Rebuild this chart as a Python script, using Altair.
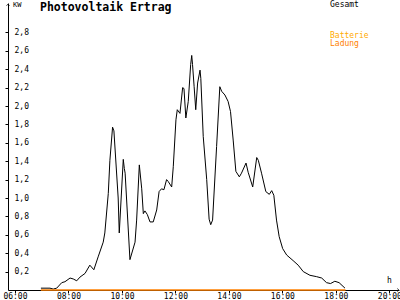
import altair as alt
import pandas as pd

# Time of day (decimal hours) and output power (kW)
hours = [6.97, 7.31, 7.43, 7.56, 7.75, 7.87, 8.06, 8.18, 8.31, 8.43, 8.62, 8.80,
         8.95, 9.11, 9.30, 9.36, 9.49, 9.55, 9.65, 9.70, 9.86, 9.90, 10.05, 10.09,
         10.12, 10.30, 10.49, 10.55, 10.65, 10.74, 10.80, 10.86, 10.95, 11.05,
         11.17, 11.30, 11.39, 11.48, 11.57, 11.67, 11.73, 11.86, 11.92, 12.02,
         12.07, 12.17, 12.27, 12.32, 12.39, 12.48, 12.57, 12.61, 12.64, 12.70,
         12.76, 12.83, 12.92, 12.95, 13.04, 13.17, 13.26, 13.32, 13.39, 13.54,
         13.66, 13.73, 13.85, 13.97, 14.06, 14.16, 14.26, 14.39, 14.47, 14.64,
         14.72, 14.89, 15.04, 15.10, 15.22, 15.38, 15.51, 15.60, 15.68, 15.78,
         15.88, 16.01, 16.16, 16.40, 16.59, 16.78, 17.03, 17.28, 17.47, 17.65,
         17.80, 17.96, 18.12, 18.34]
gesamt_kw = [0.02, 0.02, 0.01, 0.02, 0.08, 0.09, 0.13, 0.12, 0.10, 0.14, 0.18, 0.27,
             0.22, 0.36, 0.52, 0.62, 1.05, 1.41, 1.77, 1.73, 1.00, 0.62, 1.42, 1.32,
             1.27, 0.33, 0.52, 0.76, 1.36, 1.10, 0.83, 0.86, 0.82, 0.74,
             0.74, 0.87, 1.07, 1.10, 1.09, 1.20, 1.18, 1.12, 1.34, 1.85,
             1.96, 1.92, 2.20, 2.19, 1.87, 2.05, 2.45, 2.55, 2.45, 2.21,
             1.96, 2.25, 2.39, 2.30, 1.67, 1.20, 0.77, 0.71, 0.76, 1.56,
             2.21, 2.16, 2.12, 2.05, 1.94, 1.63, 1.29, 1.23, 1.27, 1.38,
             1.28, 1.12, 1.44, 1.41, 1.27, 1.07, 1.04, 1.08, 1.03, 0.76,
             0.58, 0.45, 0.38, 0.32, 0.27, 0.20, 0.16, 0.145, 0.13, 0.08,
             0.07, 0.095, 0.08, 0.02]

ladung_hours = [6.97, 18.36]
ladung_kw = [0.0, 0.0]

x_ticks = [6, 8, 10, 12, 14, 16, 18, 20]
y_ticks = [0.2, 0.4, 0.6, 0.8, 1.0, 1.2, 1.4, 1.6, 1.8, 2.0, 2.2, 2.4, 2.6, 2.8]

FONT = "DejaVu Sans Mono"

df = pd.DataFrame({"h": hours, "kw": gesamt_kw})
df_l = pd.DataFrame({"h": ladung_hours, "kw": ladung_kw})

xscale = alt.Scale(domain=[5.74, 20.36], nice=False, zero=False)
yscale = alt.Scale(domain=[0, 3.12], nice=False, zero=True)

xaxis = alt.Axis(values=x_ticks, title=None, grid=False, domainColor="black",
                 tickColor="black", tickSize=3, labelFont=FONT, labelFontSize=8,
                 labelColor="black", labelPadding=-1, labelFlush=False,
                 labelOverlap=False, labelBound=False,
                 labelExpr="(datum.value < 10 ? '0' : '') + datum.value + ':00'")
yaxis = alt.Axis(values=y_ticks, title=None, grid=False, domainColor="black",
                 tickColor="black", tickSize=3, labelFont=FONT, labelFontSize=8,
                 labelColor="black", labelAlign="left", labelPadding=-9,
                 labelBaseline="middle", labelOverlap=False, labelBound=False,
                 labelFlush=False,
                 labelExpr="replace(format(datum.value, '.1f'), '.', ',')")

gesamt = alt.Chart(df).mark_line(color="black", strokeWidth=1, interpolate="linear").encode(
    x=alt.X("h:Q", scale=xscale, axis=xaxis),
    y=alt.Y("kw:Q", scale=yscale, axis=yaxis),
)

ladung = alt.Chart(df_l).mark_line(color="#FF8000", strokeWidth=1.5).encode(
    x=alt.X("h:Q", scale=xscale, axis=xaxis),
    y=alt.Y("kw:Q", scale=yscale, axis=yaxis),
)

one = alt.Data(values=[{}])


def label(txt, px, py, size=8, color="black", bold=False, align="left"):
    return alt.Chart(one).mark_text(
        font=FONT, fontSize=size, color=color, align=align, baseline="middle",
        fontWeight="bold" if bold else "normal",
    ).encode(x=alt.value(px), y=alt.value(py), text=alt.value(txt))


title = label("Photovoltaik Ertrag", 32, 5, size=11.5, bold=True)
kw_lbl = label("KW", 5, 2, size=7)
gesamt_lbl = label("Gesamt", 322, 2)
batt_lbl = label("Batterie", 322, 33, color="#FFAA00")
lad_lbl = label("Ladung", 322, 41, color="#FF8000")
h_lbl = label("h", 379, 278)

up_arrow = alt.Chart(one).mark_point(
    shape="M-0.5,0.6L0,0L0.5,0.6", filled=False, color="black", strokeWidth=1, size=36
).encode(x=alt.value(0), y=alt.value(1))
right_arrow = alt.Chart(one).mark_point(
    shape="M-0.6,-0.5L0,0L-0.6,0.5", filled=False, color="black", strokeWidth=1, size=36
).encode(x=alt.value(391), y=alt.value(287))

chart = alt.layer(
    gesamt, ladung, title, kw_lbl, gesamt_lbl, batt_lbl, lad_lbl, h_lbl,
    up_arrow, right_arrow,
).properties(
    width=391, height=287, autosize="none",
    padding={"left": 8, "top": 3, "right": 1, "bottom": 10},
    background="white",
).configure_view(stroke=None)

chart.save("out.html", embed_options={"renderer": "svg", "actions": False})
